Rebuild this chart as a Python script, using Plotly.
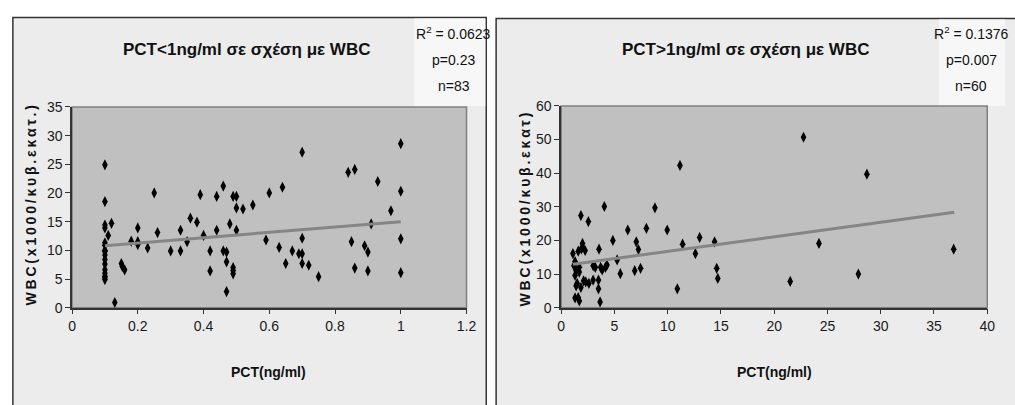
import plotly.graph_objects as go

W, H = 1015, 405

# ---------------- data ----------------
left_x = [0.10, 0.10, 0.10, 0.10, 0.12, 0.11, 0.10, 0.10, 0.10, 0.10, 0.10, 0.10, 0.10, 0.10, 0.10, 0.10,
          0.13, 0.15, 0.16, 0.153, 0.18, 0.20, 0.20, 0.20, 0.23, 0.25, 0.26, 0.30, 0.33, 0.33, 0.35, 0.36,
          0.38, 0.39, 0.40, 0.42, 0.42, 0.44, 0.44, 0.46, 0.46, 0.47, 0.47, 0.47, 0.48, 0.49, 0.50, 0.50,
          0.50, 0.49, 0.49, 0.49, 0.52, 0.55, 0.59, 0.60, 0.63, 0.64, 0.65, 0.67, 0.69, 0.70, 0.70, 0.70,
          0.70, 0.72, 0.75, 0.84, 0.86, 0.85, 0.86, 0.89, 0.90, 0.90, 0.91, 0.93, 0.97, 1.00, 1.00, 1.00,
          1.00, 0.10, 0.10]
left_y = [24.9, 18.5, 14.4, 13.9, 14.7, 12.6, 10.9, 9.8, 9.2, 8.4, 7.6, 6.6, 5.5, 4.9, 10.0, 5.2,
          0.9, 7.7, 6.6, 7.2, 11.6, 13.9, 11.5, 11.0, 10.4, 20.0, 13.1, 9.9, 13.5, 9.9, 11.5, 15.6,
          14.9, 19.7, 12.6, 9.9, 6.4, 19.4, 13.5, 21.2, 9.9, 9.7, 8.0, 2.8, 14.6, 19.4, 19.4, 17.4,
          13.5, 7.0, 6.5, 5.9, 17.2, 17.9, 11.8, 20.0, 10.5, 21.0, 7.7, 9.9, 9.4, 27.1, 12.1, 9.4,
          7.7, 7.4, 5.4, 23.6, 24.1, 11.5, 6.9, 10.8, 9.7, 6.4, 14.6, 22.0, 16.9, 28.6, 20.3, 12.0,
          6.1, 6.0, 11.3]
left_trend_x = [0.1, 1.0]
left_trend_y = [10.8, 15.0]

right_x = [1.1, 1.3, 1.3, 1.3, 1.7, 1.5, 1.7, 1.7, 1.6, 1.85, 1.85, 2.0, 2.0, 2.25, 2.55, 2.3, 2.6,
           3.0, 3.0, 3.5, 3.5, 3.55, 3.65, 3.7, 3.85, 4.05, 4.15, 4.3, 4.85, 5.25, 5.55, 6.25, 6.9,
           7.05, 7.25, 7.45, 8.0, 8.8, 9.95, 10.9, 11.15, 11.4, 12.6, 13.0, 14.4, 14.6, 14.7, 22.75,
           28.7, 24.2, 21.5, 27.9, 36.85, 1.4, 1.9, 1.4, 2.1, 1.2, 3.2, 1.6]
right_y = [16.1, 13.7, 9.6, 2.9, 2.0, 7.2, 12.0, 10.6, 16.8, 27.4, 6.0, 19.1, 18.0, 17.0, 25.6, 7.7, 7.2,
           12.5, 8.2, 8.2, 5.6, 17.4, 1.7, 12.0, 11.2, 30.1, 12.0, 12.7, 20.0, 14.2, 10.1, 23.1, 11.0,
           19.6, 17.3, 11.7, 23.6, 29.7, 23.1, 5.6, 42.3, 18.9, 16.1, 20.9, 19.6, 11.7, 8.7, 50.7,
           39.7, 19.1, 7.8, 10.0, 17.4, 11.0, 17.5, 6.5, 8.0, 12.5, 12.0, 3.0]
right_trend_x = [1.1, 36.9]
right_trend_y = [12.9, 28.4]

titles = ["PCT<1ng/ml σε σχέση με WBC", "PCT>1ng/ml σε σχέση με WBC"]
stats = [["R<sup>2</sup> = 0.0623", "p=0.23", "n=83"], ["R<sup>2</sup> = 0.1376", "p=0.007", "n=60"]]
y_titles = ["WBC(x1000/κυβ.εκατ.)", "WBC(x1000/κυβ.εκατ)"]
x_title = "PCT(ng/ml)"

# ---------------- helpers ----------------
def px(x):
    return x / W

def py(y):
    return 1 - y / H

FONT = "Liberation Sans, Arial, sans-serif"

fig = go.Figure()

marker = dict(symbol="diamond-tall", size=8, color="black")
fig.add_trace(go.Scatter(x=left_x, y=left_y, mode="markers", marker=marker, xaxis="x", yaxis="y",
                         showlegend=False))
fig.add_trace(go.Scatter(x=left_trend_x, y=left_trend_y, mode="lines", line=dict(color="#858585", width=3),
                         xaxis="x", yaxis="y", showlegend=False))
fig.add_trace(go.Scatter(x=right_x, y=right_y, mode="markers", marker=marker, xaxis="x2", yaxis="y2",
                         showlegend=False))
fig.add_trace(go.Scatter(x=right_trend_x, y=right_trend_y, mode="lines", line=dict(color="#858585", width=3),
                         xaxis="x2", yaxis="y2", showlegend=False))

axis_common = dict(showline=True, linecolor="#333333", linewidth=1.5, ticks="outside", ticklen=5,
                   tickcolor="#333333", showgrid=False, zeroline=False,
                   tickfont=dict(family=FONT, size=14, color="#1a1a1a"))

fig.update_layout(
    width=W, height=H, margin=dict(l=0, r=0, t=0, b=0),
    paper_bgcolor="white", plot_bgcolor="rgba(0,0,0,0)",
    xaxis=dict(domain=[px(69), px(469)], range=[0, 1.2], dtick=0.2, anchor="y", **axis_common),
    yaxis=dict(domain=[py(312), py(103)], range=[0, 35], dtick=5, anchor="x", **axis_common),
    xaxis2=dict(domain=[px(565), px(997)], range=[0, 40], dtick=5, anchor="y2", **axis_common),
    yaxis2=dict(domain=[py(312), py(102)], range=[0, 60], dtick=10, anchor="x2", **axis_common),
)

shapes = []
# chart backgrounds
shapes.append(dict(type="rect", xref="paper", yref="paper", x0=px(9), x1=px(489), y0=py(420), y1=py(10),
                   fillcolor="#ececec", line=dict(color="#333333", width=1.5), layer="below"))
shapes.append(dict(type="rect", xref="paper", yref="paper", x0=px(499), x1=px(1030), y0=py(420), y1=py(11),
                   fillcolor="#ececec", line=dict(color="#333333", width=1.5), layer="below"))
# stats boxes
shapes.append(dict(type="rect", xref="paper", yref="paper", x0=px(416), x1=px(488), y0=py(102), y1=py(11),
                   fillcolor="#f7f7f7", line=dict(width=0), layer="below"))
shapes.append(dict(type="rect", xref="paper", yref="paper", x0=px(948), x1=px(1015), y0=py(102), y1=py(12),
                   fillcolor="#f7f7f7", line=dict(width=0), layer="below"))
# plot areas
for xr, yr in (("x domain", "y domain"), ("x2 domain", "y2 domain")):
    shapes.append(dict(type="rect", xref=xr, yref=yr, x0=0, x1=1, y0=0, y1=1,
                       fillcolor="#c0c0c0", line=dict(color="#808080", width=1.5), layer="below"))
fig.update_layout(shapes=shapes)

ann = []
# titles
for t, cx in zip(titles, (246, 752)):
    ann.append(dict(text="<b>" + t + "</b>", x=px(cx), y=py(43), xref="paper", yref="paper",
                    showarrow=False, xanchor="center", yanchor="middle",
                    font=dict(family=FONT, size=17, color="#111111")))
# stats text
for st, cx in zip(stats, (456, 981)):
    for line, yy in zip(st, (26, 54, 81)):
        ann.append(dict(text=line, x=px(cx), y=py(yy), xref="paper", yref="paper", showarrow=False,
                        xanchor="center", yanchor="middle",
                        font=dict(family=FONT, size=14, color="#111111")))
# x axis titles
for cx in (268, 781):
    ann.append(dict(text="<b>" + x_title + "</b>", x=px(cx), y=py(379), xref="paper", yref="paper",
                    showarrow=False, xanchor="center", yanchor="middle",
                    font=dict(family=FONT, size=14, color="#111111")))
# y axis titles (letter-spaced)
for t, cx, cy in zip(y_titles, (27, 528), (206, 210)):
    spaced = "\u2009".join(list(t))
    ann.append(dict(text="<b>" + spaced + "</b>", x=px(cx), y=py(cy), xref="paper", yref="paper",
                    showarrow=False, xanchor="center", yanchor="middle", textangle=-90,
                    font=dict(family=FONT, size=14, color="#111111")))
fig.update_layout(annotations=ann)

fig.write_html("out.html")
